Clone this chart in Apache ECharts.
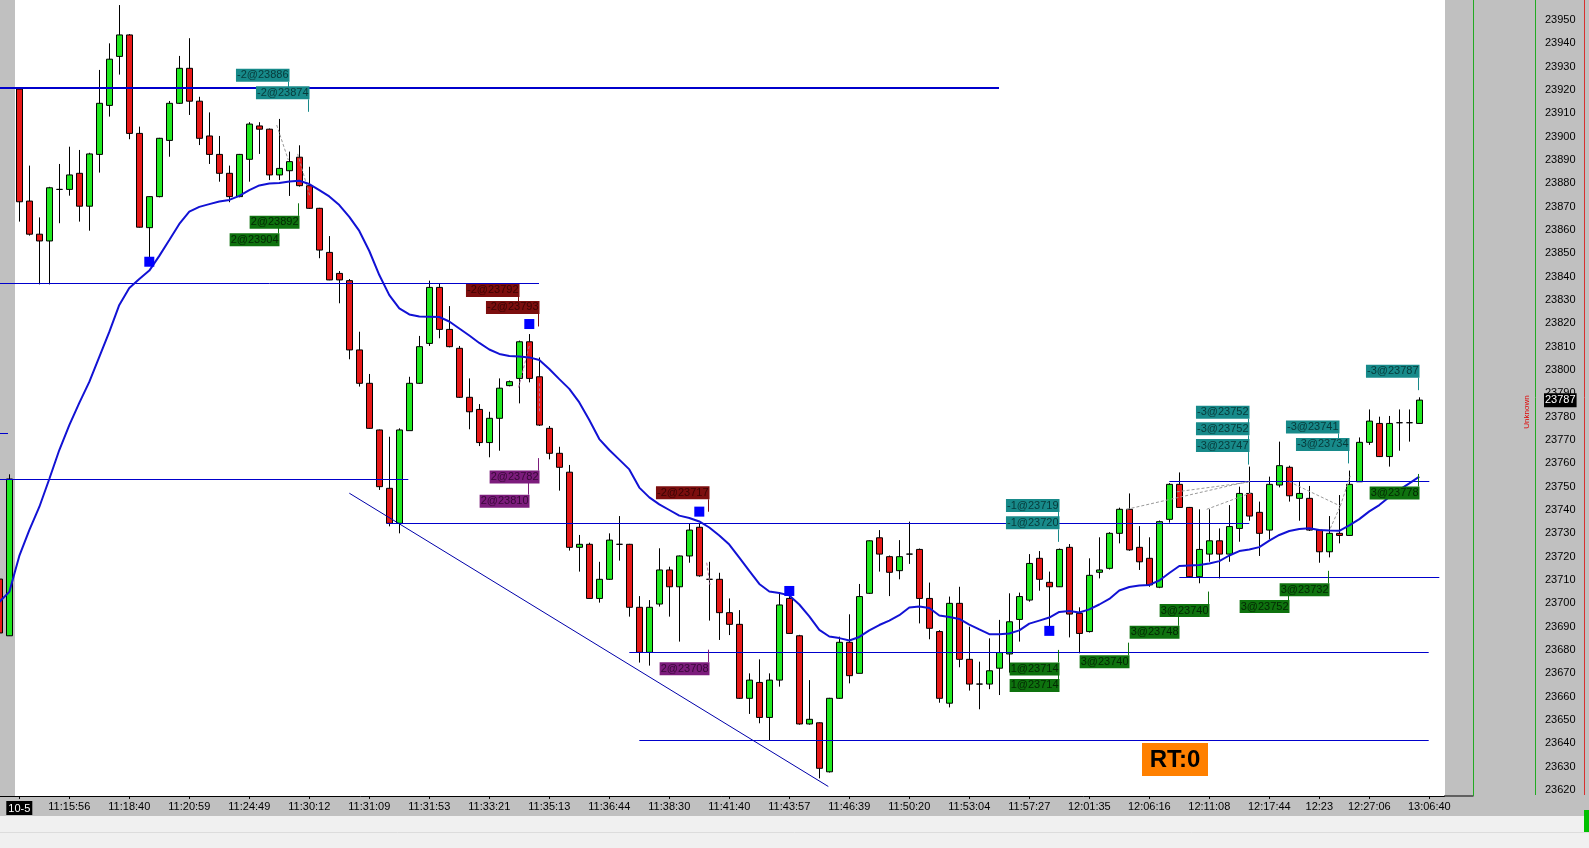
<!DOCTYPE html>
<html><head><meta charset="utf-8">
<script src="https://cdn.jsdelivr.net/npm/echarts@6/dist/echarts.min.js"></script>
<style>html,body{margin:0;padding:0;background:#c0c0c0;overflow:hidden}#c{width:1589px;height:848px;}</style>
</head><body><div id="c"></div>
<script>
// ---------- DATA ----------
const firstK = -2;           // index of first candle (candle 0 is the "10-5" session start)
const lastK = 142;           // last slot on the axis
// [open, close, low, high]
const candles = [
[23710.4,23687.3,23685.0,23713.0],[23686.1,23753.3,23686.0,23755.3],
[23920.4,23872.1,23863.6,23921.0],[23872.4,23858.2,23857.6,23887.6],[23858.2,23855.3,23836.7,23865.4],
[23855.3,23878.1,23836.7,23878.5],[23877.4,23877.4,23862.9,23888.3],[23877.4,23883.6,23874.7,23895.7],
[23884.3,23870.2,23863.6,23894.3],[23870.2,23892.6,23859.7,23893.1],[23892.4,23914.3,23884.6,23928.6],
[23913.4,23933.2,23908.6,23940.0],[23934.4,23943.6,23926.6,23956.4],[23943.6,23901.4,23898.9,23944.0],
[23901.4,23861.2,23861.0,23904.3],[23861.0,23874.3,23847.9,23874.5],[23874.3,23899.3,23874.0,23899.5],
[23898.4,23914.3,23891.4,23915.3],[23914.3,23929.3,23914.0,23934.6],[23929.3,23915.2,23909.3,23942.2],
[23915.2,23899.3,23896.4,23917.1],[23900.3,23892.4,23888.3,23910.4],[23892.4,23884.3,23880.7,23900.3],
[23884.3,23874.3,23871.9,23887.6],[23874.3,23892.4,23874.0,23892.6],[23890.3,23905.4,23880.7,23906.2],
[23904.6,23903.2,23892.6,23906.2],[23903.2,23883.6,23881.4,23903.5],[23883.6,23886.4,23881.4,23907.6],
[23885.4,23889.3,23874.6,23893.6],[23891.2,23879.0,23878.6,23896.3],[23879.0,23869.3,23869.0,23887.1],
[23869.3,23851.4,23847.9,23869.5],[23850.4,23838.6,23838.5,23857.4],[23841.4,23838.6,23828.6,23842.4],
[23838.3,23808.6,23804.6,23839.0],[23808.6,23794.3,23792.9,23816.4],[23794.3,23775.0,23774.8,23798.3],
[23774.3,23750.0,23748.6,23774.5],[23749.3,23734.3,23733.0,23771.4],[23734.3,23774.3,23730.0,23775.0],
[23774.0,23794.3,23774.0,23797.1],[23794.3,23810.0,23794.0,23814.6],[23811.4,23835.4,23810.3,23838.3],
[23835.4,23817.4,23813.6,23837.2],[23817.4,23810.0,23809.7,23827.4],[23809.3,23788.3,23788.0,23810.3],
[23788.3,23782.1,23774.6,23796.4],[23783.1,23768.9,23767.4,23785.4],[23768.9,23779.3,23762.6,23782.1],
[23779.3,23792.2,23765.4,23796.4],[23793.3,23795.0,23793.0,23795.5],[23796.4,23812.1,23785.7,23812.6],
[23812.1,23796.4,23794.7,23815.4],[23797.1,23776.4,23776.0,23805.4],[23775.0,23764.3,23761.7,23776.0],
[23764.3,23758.3,23748.3,23767.1],[23756.2,23724.0,23722.6,23759.3],[23724.0,23725.3,23713.6,23729.3],
[23725.3,23702.1,23702.0,23726.0],[23702.1,23710.3,23700.3,23717.8],[23710.3,23727.1,23710.0,23730.0],
[23725.3,23725.3,23718.3,23737.4],[23725.3,23698.3,23694.3,23725.5],[23698.3,23679.0,23674.6,23703.1],
[23679.0,23698.3,23673.3,23701.4],[23699.7,23714.3,23698.6,23723.6],[23714.3,23707.1,23694.3,23715.7],
[23707.1,23720.3,23683.6,23720.5],[23720.3,23731.4,23717.4,23734.3],[23732.6,23711.8,23711.4,23734.3],
[23710.3,23710.3,23692.6,23717.8],[23710.3,23696.0,23684.3,23713.1],[23696.0,23691.0,23686.4,23702.1],
[23691.0,23659.3,23659.0,23697.1],[23659.3,23667.1,23652.6,23670.0],[23666.1,23651.1,23648.6,23676.0],
[23651.1,23667.1,23641.4,23670.0],[23667.1,23699.3,23664.3,23704.3],[23702.1,23687.1,23687.0,23703.6],
[23686.1,23648.3,23648.0,23686.5],[23648.3,23650.3,23648.0,23667.1],[23648.8,23629.3,23625.0,23649.0],
[23627.8,23659.3,23627.5,23659.5],[23659.3,23683.3,23659.0,23685.7],[23683.3,23669.0,23665.7,23695.3],
[23670.0,23702.9,23670.0,23708.3],[23704.3,23726.8,23704.0,23727.0],[23728.1,23721.1,23713.6,23731.4],
[23720.0,23713.3,23703.1,23720.5],[23714.0,23720.0,23710.3,23727.1],[23721.1,23721.1,23716.9,23735.0],
[23723.1,23702.1,23691.4,23723.5],[23702.1,23689.3,23684.6,23708.9],[23687.9,23659.3,23657.4,23688.5],
[23657.2,23700.0,23655.4,23702.9],[23700.0,23676.0,23672.6,23707.1],[23676.0,23665.4,23662.6,23690.0],
[23665.4,23665.4,23654.6,23675.0],[23665.4,23671.1,23663.2,23685.0],[23672.2,23678.9,23660.7,23692.9],
[23678.3,23692.1,23670.3,23704.3],[23693.1,23702.9,23683.6,23704.6],[23701.4,23717.1,23700.7,23721.1],
[23719.3,23710.3,23705.4,23722.4],[23709.0,23707.1,23690.0,23713.6],[23707.1,23723.1,23707.0,23723.5],
[23724.0,23695.4,23685.4,23725.4],[23695.7,23687.1,23678.6,23698.3],[23687.9,23712.0,23687.5,23719.3],
[23713.3,23714.3,23710.7,23728.3],[23715.0,23730.0,23714.5,23730.5],[23730.0,23740.3,23725.7,23741.0],
[23740.3,23722.9,23722.5,23747.1],[23724.0,23717.8,23714.3,23733.1],[23719.3,23707.9,23707.1,23728.3],
[23706.9,23735.0,23706.5,23735.5],[23736.0,23751.0,23734.6,23751.5],[23751.0,23741.1,23741.0,23756.1],
[23741.1,23711.4,23711.0,23741.3],[23711.4,23723.1,23708.6,23740.3],[23721.1,23726.8,23717.8,23740.3],
[23726.8,23721.1,23710.7,23732.1],[23721.1,23732.9,23717.8,23742.1],[23732.1,23747.1,23726.4,23750.0],
[23747.1,23737.4,23735.4,23758.6],[23739.0,23730.0,23720.3,23743.6],[23731.4,23751.0,23727.4,23754.3],
[23750.7,23759.0,23749.7,23769.3],[23758.3,23746.1,23743.6,23759.0],[23745.0,23747.1,23735.4,23752.1],
[23745.0,23731.4,23731.0,23750.3],[23731.4,23722.1,23717.4,23731.5],[23722.1,23730.0,23719.7,23737.4],
[23730.0,23729.1,23725.7,23746.4],[23729.1,23751.0,23729.0,23756.9],[23752.1,23769.0,23752.0,23771.1],
[23769.0,23778.1,23767.9,23783.1],[23777.1,23762.9,23762.7,23780.0],[23762.9,23777.1,23758.6,23780.3],
[23777.4,23777.4,23765.4,23783.1],[23777.4,23777.4,23769.3,23783.1],[23777.1,23787.1,23777.0,23788.3]
];
const maValues = [
23700.6,23704.9,23720.3,23731.4,23741.3,23753.3,23765.7,23776.4,23785.9,23794.9,
23805.6,23816.3,23827.9,23835.1,23839.0,23842.6,23848.9,23855.7,23862.6,23867.9,
23869.9,23871.1,23872.2,23872.9,23874.6,23877.1,23879.1,23879.9,23880.1,23880.8,
23881.1,23879.7,23877.1,23874.4,23870.7,23865.6,23859.6,23851.0,23840.7,23832.1,
23826.4,23823.8,23822.9,23822.8,23822.7,23820.8,23817.8,23814.8,23811.6,23808.8,
23806.9,23806.0,23805.8,23805.4,23804.3,23800.4,23796.1,23791.9,23786.1,23778.6,
23770.4,23765.7,23761.6,23757.4,23749.6,23745.4,23742.4,23740.0,23737.6,23736.6,
23735.1,23732.5,23729.1,23725.2,23719.6,23713.9,23708.3,23705.1,23704.4,23703.4,
23699.5,23694.4,23688.6,23685.8,23685.1,23684.1,23685.6,23688.4,23690.7,23692.6,
23694.9,23698.2,23698.6,23698.0,23694.8,23694.1,23693.3,23690.9,23688.8,23686.8,
23686.8,23687.1,23688.4,23691.3,23692.6,23693.9,23696.3,23696.7,23696.1,23697.4,
23699.5,23701.9,23705.5,23707.0,23707.6,23707.9,23709.8,23713.0,23716.0,23716.2,
23716.4,23717.1,23718.1,23720.5,23722.4,23723.1,23724.1,23726.9,23729.3,23731.0,
23731.9,23732.2,23731.4,23731.2,23731.1,23733.4,23736.1,23739.4,23742.1,23745.6,
23748.6,23751.4,23754.3
];
// [candle index, label]
const tickLabels = [
[0,'10-5'],[5,'11:15:56'],[11,'11:18:40'],[17,'11:20:59'],[23,'11:24:49'],[29,'11:30:12'],
[35,'11:31:09'],[41,'11:31:53'],[47,'11:33:21'],[53,'11:35:13'],[59,'11:36:44'],[65,'11:38:30'],
[71,'11:41:40'],[77,'11:43:57'],[83,'11:46:39'],[89,'11:50:20'],[95,'11:53:04'],[101,'11:57:27'],
[107,'12:01:35'],[113,'12:06:16'],[119,'12:11:08'],[125,'12:17:44'],[130,'12:23'],[135,'12:27:06'],
[141,'13:06:40']
];
const priceTicks = [23620,23630,23640,23650,23660,23670,23680,23690,23700,23710,23720,23730,23740,
23750,23760,23770,23780,23790,23800,23810,23820,23830,23840,23850,23860,23870,23880,23890,23900,
23910,23920,23930,23940,23950];
// horizontal drawn levels: [price, from candle, to candle]
const levels = [
[23920.9,-1.93,97.97],[23837.1,-1.93,51.97],[23753.2,-1.93,38.9],[23773.1,-1.93,-1.13],
[23734.3,36.74,123.0],[23711.0,116.0,142.0],[23678.9,61.0,140.94],[23641.4,62.0,140.94],[23752.3,115.0,141.0]
];
const trendLine = [[33,23747.2],[80.9,23621.5]];
// trade connector lines: [k1,v1,k2,v2,kind]
const connectors = [
[25.74,23905.0,26.9,23890.0,'g'],[27.84,23892.6,29.07,23874.3,'g'],
[51.0,23810.3,49.9,23792.1,'p'],[52.0,23794.3,52.0,23782.1,'p'],[68.74,23717.4,69.07,23707.9,'p'],
[110.74,23740.3,123.07,23752.4,'g'],[115.74,23747.8,122.9,23751.9,'g'],[118.74,23740.3,123.2,23747.4,'g'],
[127.0,23752.1,132.1,23741.7,'g'],[131.1,23732.1,132.1,23741.7,'g'],[132.1,23741.7,133.1,23754.6,'g']
];
// signal squares: [candle index, price]
const signals = [[13,23846.4],[51,23819.7],[68,23739.3],[77,23705.3],[103,23688.2]];
// trade labels: [text, candle index (right edge), price (box centre), tick direction, kind]
const trades = [
['-2@23886',27,23926.3,1,'teal'],['-2@23874',29,23918.8,1,'teal'],
['2@23904',26,23855.8,-1,'green'],['2@23892',28,23863.3,-1,'green'],
['-2@23792',50,23834.1,1,'red'],['-2@23793',52,23826.8,1,'red'],
['2@23810',51,23743.8,-1,'purple'],['2@23782',52,23754.1,-1,'purple'],
['-2@23717',69,23747.4,1,'red'],['2@23708',69,23672.0,-1,'purple'],
['-1@23719',104,23741.9,1,'teal'],['-1@23720',104,23734.5,1,'teal'],
['1@23714',104,23664.8,-1,'green'],['1@23714',104,23671.9,-1,'green'],
['3@23740',111,23675.0,-1,'green'],['3@23748',116,23687.6,-1,'green'],['3@23740',119,23696.9,-1,'green'],
['-3@23752',123,23781.9,1,'teal'],['-3@23752',123,23774.8,1,'teal'],['-3@23747',123,23767.6,1,'teal'],
['-3@23741',132,23775.6,1,'teal'],['-3@23734',133,23768.1,1,'teal'],
['3@23752',127,23698.6,-1,'green'],['3@23732',131,23705.8,-1,'green'],
['-3@23787',140,23799.5,1,'teal'],['3@23778',140,23747.3,-1,'green']
];
const lastPrice = 23787;
const rtText = 'RT:0';

// ---------- STYLE ----------
const FONT = 'Liberation Sans';
const tradeColors = {
  teal:{bg:'#178a8a',fg:'#073a3a'}, green:{bg:'#0e720e',fg:'#032803'},
  red:{bg:'#7c0e0e',fg:'#3a0303'}, purple:{bg:'#7c1c7c',fg:'#380838'}
};
const connColors = {g:'#9a9a9a', p:'#b070a0'};

const cats = [];
for (let k = firstK; k <= lastK; k++) cats.push(String(k));
const tickMap = {};
tickLabels.forEach(t => { tickMap[t[0] - firstK] = t[1]; });

const chart = echarts.init(document.getElementById('c'), null, {renderer:'canvas'});

const markData = [];
levels.forEach((l, i) => {
  markData.push([{coord:[l[1], l[0]], lineStyle:{color:'#0000cc', width: i === 0 ? 2 : 1, type:'solid'}},
                 {coord:[l[2], l[0]]}]);
});
markData.push([{coord:trendLine[0], lineStyle:{color:'#0000aa', width:1, type:'solid'}}, {coord:trendLine[1]}]);
connectors.forEach(c => {
  markData.push([{coord:[c[0], c[1]], lineStyle:{color:connColors[c[4]], width:1, type:[3,2]}}, {coord:[c[2], c[3]]}]);
});

const option = {
  animation:false,
  backgroundColor:'#c0c0c0',
  grid:{left:-5.7, right:144.7, top:-3.3333, bottom:34.6667, containLabel:false, outerBoundsMode:'none'},
  xAxis:[
    {type:'category', data:cats, boundaryGap:true, position:'bottom', offset:-17.3333,
     axisLine:{show:true, lineStyle:{color:'#000', width:1}},
     axisTick:{show:true, alignWithLabel:true, length:3, lineStyle:{color:'#000'},
       interval:(i)=> tickMap[i] !== undefined},
     axisLabel:{interval:(i)=> tickMap[i] !== undefined, margin:5, color:'#000', fontSize:11, fontFamily:FONT,
       formatter:(v, i)=> { const t = tickMap[i] || ''; return t === '10-5' ? '{hl|' + t + '}' : t; },
       rich:{hl:{backgroundColor:'#000', color:'#fff', fontSize:11, fontFamily:FONT, padding:[2,2,1,2]}}},
     splitLine:{show:false}},
    {type:'value', min:firstK - 0.5, max:lastK + 0.5, show:false}
  ],
  yAxis:[{type:'value', position:'right', offset:92.7, min:23610, max:23960, interval:10, scale:true,
    axisLine:{show:false}, axisTick:{show:false}, splitLine:{show:false},
    axisLabel:{margin:8, color:'#000', fontSize:11, fontFamily:FONT, showMinLabel:false, showMaxLabel:false,
      formatter:(v)=> priceTicks.indexOf(Math.round(v)) >= 0 ? String(Math.round(v)) : ''}}],
  graphic:[
    {type:'rect', z:-100, silent:true, shape:{x:15, y:0, width:1430, height:796}, style:{fill:'#ffffff'}},
    {type:'rect', z:-100, silent:true, shape:{x:0, y:816, width:1589, height:32}, style:{fill:'#f0f0f0'}},
    {type:'line', z:-50, silent:true, shape:{x1:0, y1:832.5, x2:1589, y2:832.5}, style:{stroke:'#dcdcdc', lineWidth:1}},
    {type:'line', z:50, silent:true, shape:{x1:1444, y1:796, x2:1473.5, y2:796}, style:{stroke:'#000', lineWidth:1}},
    {type:'line', z:50, silent:true, shape:{x1:1473.5, y1:0, x2:1473.5, y2:796}, style:{stroke:'#22aa22', lineWidth:1}},
    {type:'line', z:50, silent:true, shape:{x1:1535.5, y1:0, x2:1535.5, y2:795}, style:{stroke:'#22aa22', lineWidth:1}},
    {type:'line', z:50, silent:true, shape:{x1:1584.5, y1:0, x2:1584.5, y2:795}, style:{stroke:'#d83030', lineWidth:1}},
    {type:'rect', z:50, silent:true, shape:{x:1584, y:810, width:5, height:22}, style:{fill:'#00c000'}},
    {type:'text', z:50, silent:true, x:1527, y:412, rotation:Math.PI/2,
      style:{text:'Unknown', fill:'#e00000', font:'8px ' + FONT, align:'center', verticalAlign:'middle'}},
    {type:'rect', z:60, silent:true, shape:{x:1142, y:743, width:66, height:33}, style:{fill:'#ff8000'}},
    {type:'text', z:61, silent:true, x:1175, y:760, style:{text:rtText, fill:'#000', font:'bold 24px ' + FONT, align:'center', verticalAlign:'middle'}}
  ],
  series:[
    {type:'candlestick', name:'price', xAxisIndex:0, yAxisIndex:0, barWidth:6, z:2,
     data:candles,
     itemStyle:{color:'#20e820', color0:'#e81818', borderColor:'#000', borderColor0:'#000', borderWidth:1}},
    {type:'line', name:'ma', xAxisIndex:0, yAxisIndex:0, data:maValues, symbol:'none', smooth:false, z:4,
     lineStyle:{color:'#1212d4', width:2}},
    {type:'scatter', name:'signals', xAxisIndex:1, yAxisIndex:0, data:signals, symbol:'rect', symbolSize:10, z:5,
     itemStyle:{color:'#0000ff', opacity:1},
     markLine:{silent:true, symbol:['none','none'], animation:false, label:{show:false}, data:markData, z:3}},
    {type:'custom', name:'trades', xAxisIndex:1, yAxisIndex:0, z:10,
     data:trades.map(t => [t[1], t[2]]),
     renderItem:(params, api) => {
       const t = trades[params.dataIndex];
       const p = api.coord([api.value(0), api.value(1)]);
       const c = tradeColors[t[4]];
       const x = Math.round(p[0]);
       const tx = x - 0.5;
       const y0 = p[1] + t[3] * 6.5, y1 = p[1] + t[3] * 19;
       return {type:'group', children:[
         {type:'line', shape:{x1:tx, y1:y0, x2:tx, y2:y1}, style:{stroke:c.bg, lineWidth:1}},
         {type:'text', x:x + 0.5, y:p[1], style:{text:t[0], fill:c.fg, backgroundColor:c.bg,
           padding:[1,1,0,1], font:'11px ' + FONT, align:'right', verticalAlign:'middle', lineHeight:12}}
       ]};
     }},
    {type:'custom', name:'lastPrice', xAxisIndex:1, yAxisIndex:0, z:20, clip:false,
     data:[[lastK + 0.5, lastPrice]],
     renderItem:(params, api) => {
       const p = api.coord([api.value(0), api.value(1)]);
       return {type:'text', x:p[0] + 99.7, y:p[1], z2:100, style:{text:String(lastPrice), fill:'#fff', backgroundColor:'#000',
         padding:[2,1,1,1], font:'11px ' + FONT, align:'left', verticalAlign:'middle'}};
     }}
  ]
};
chart.setOption(option);
</script></body></html>
